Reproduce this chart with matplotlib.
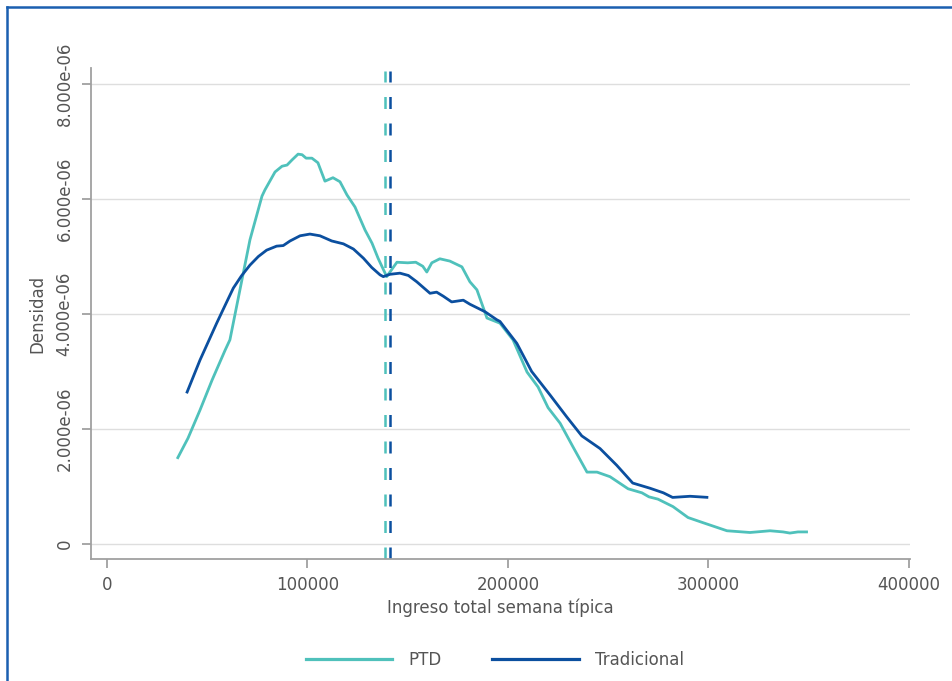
import matplotlib
matplotlib.use("Agg")
import matplotlib.pyplot as plt
from matplotlib.lines import Line2D

# ---- data ----
ptd_x = [35.0, 40.4, 46.4, 52.4, 58.9, 61.3, 66.3, 71.3, 77.3, 78.8, 83.8, 87.3, 89.8,
         92.3, 95.3, 97.3, 99.3, 102.2, 105.2, 108.7, 112.7, 116.2, 119.7, 123.7, 128.7,
         132.2, 135.2, 139.5, 144.6, 150.0, 154.0, 157.5, 159.5, 162.0, 166.0, 171.0,
         177.0, 181.0, 184.5, 189.5, 196.0, 202.5, 209.5, 215.0, 220.0, 226.0, 232.4,
         239.4, 244.4, 250.9, 259.9, 266.8, 270.3, 274.8, 282.3, 289.8, 297.3, 309.2,
         320.7, 330.7, 337.2, 340.6, 344.6, 349.6]
ptd_x = [v * 1000 for v in ptd_x]
ptd_y = [1.48, 1.84, 2.33, 2.85, 3.37, 3.55, 4.42, 5.29, 6.05, 6.16, 6.47, 6.57, 6.59,
         6.68, 6.78, 6.77, 6.71, 6.71, 6.63, 6.31, 6.37, 6.30, 6.07, 5.86, 5.46,
         5.23, 4.97, 4.65, 4.90, 4.89, 4.90, 4.83, 4.73, 4.89, 4.96, 4.92,
         4.82, 4.56, 4.42, 3.93, 3.84, 3.55, 2.99, 2.73, 2.37, 2.10, 1.69,
         1.25, 1.25, 1.17, 0.96, 0.89, 0.82, 0.78, 0.65, 0.46, 0.37, 0.23,
         0.20, 0.23, 0.21, 0.19, 0.21, 0.21]
ptd_y = [v * 1e-6 for v in ptd_y]

trad_x = [39.7, 46.4, 54.7, 58.9, 63.0, 67.0, 71.3, 75.5, 79.6, 84.6, 87.9, 91.3, 96.3,
          101.2, 106.2, 112.1, 117.9, 122.9, 127.9, 132.0, 136.2, 137.8, 141.1, 146.1,
          150.3, 154.5, 161.1, 164.4, 167.7, 171.9, 177.7, 181.0, 188.5, 194.4, 196.0,
          204.4, 211.8, 221.0, 229.3, 236.8, 245.9, 254.2, 262.2, 270.8, 277.5, 282.1,
          290.8, 299.9]
trad_x = [v * 1000 for v in trad_x]
trad_y = [2.62, 3.20, 3.84, 4.15, 4.45, 4.66, 4.85, 5.00, 5.11, 5.18, 5.19, 5.27, 5.36,
          5.39, 5.36, 5.27, 5.22, 5.13, 4.97, 4.81, 4.68, 4.65, 4.69, 4.71,
          4.67, 4.56, 4.36, 4.38, 4.31, 4.21, 4.24, 4.17, 4.04, 3.90, 3.87,
          3.49, 3.00, 2.59, 2.21, 1.88, 1.66, 1.37, 1.06, 0.97, 0.89, 0.81,
          0.83, 0.81]
trad_y = [v * 1e-6 for v in trad_y]

mean_ptd = 138700
mean_trad = 140900

xticks = [0, 100000, 200000, 300000, 400000]
xtick_labels = ["0", "100000", "200000", "300000", "400000"]
yticks = [0, 2e-6, 4e-6, 6e-6, 8e-6]
ytick_labels = ["0", "2.000e-06", "4.000e-06", "6.000e-06", "8.000e-06"]

series_names = ["PTD", "Tradicional"]
TEAL = "#4fc1bb"
BLUE = "#0b4f9f"
TXT = "#555555"
SPINE = "#a0a0a0"
GRID = "#dedede"

plt.rcParams['font.family'] = ['DejaVu Sans']

fig = plt.figure(figsize=(9.53, 6.81), dpi=100)
ax = fig.add_axes([91/953, 1 - 559/681, (910 - 91)/953, (559 - 68)/681])

ax.set_xlim(-7980, 400500)
ax.set_ylim(-0.261e-6, 8.278e-6)

ax.set_yticks(yticks)
ax.set_yticklabels(ytick_labels, rotation=90, va="center")
ax.set_xticks(xticks)
ax.set_xticklabels(xtick_labels)
ax.grid(axis="y", color=GRID, linewidth=1.0)
ax.set_axisbelow(True)

for s in ["top", "right"]:
    ax.spines[s].set_visible(False)
for s in ["left", "bottom"]:
    ax.spines[s].set_color(SPINE)
    ax.spines[s].set_linewidth(1.3)
ax.tick_params(axis="both", colors=SPINE, length=6.5, width=1.3, labelcolor=TXT, labelsize=12)
ax.tick_params(axis="y", pad=6)
ax.tick_params(axis="x", pad=6)

lw = 2.0
ax.plot(ptd_x, ptd_y, color=TEAL, lw=lw, solid_joinstyle="round", solid_capstyle="butt",
        label=series_names[0])
ax.plot(trad_x, trad_y, color=BLUE, lw=lw, solid_joinstyle="round", solid_capstyle="butt",
        label=series_names[1])

for xm, c in [(mean_ptd, TEAL), (mean_trad, BLUE)]:
    ln = ax.axvline(xm, ymin=0, ymax=0.993, color=c, lw=1.8)
    ln.set_dashes((4.8, 5.8))

ax.set_xlabel("Ingreso total semana típica", color=TXT, fontsize=12, labelpad=3)
ax.set_ylabel("Densidad", color=TXT, fontsize=12, labelpad=7)

handles = [Line2D([0], [0], color=TEAL, lw=2.3), Line2D([0], [0], color=BLUE, lw=2.3)]
leg = fig.legend(handles, series_names, loc="center", bbox_to_anchor=(495/953, 1 - 660/681),
                 ncol=2, frameon=False, fontsize=12, handlelength=5.2, handletextpad=1.0,
                 columnspacing=3.0)
for t in leg.get_texts():
    t.set_color(TXT)

# figure frame (top and left edges)
fig.add_artist(Line2D([7/953, 1], [1 - 6.5/681, 1 - 6.5/681], transform=fig.transFigure,
                      color="#1a5fb0", lw=1.8))
fig.add_artist(Line2D([7.5/953, 7.5/953], [0, 1 - 6.5/681], transform=fig.transFigure,
                      color="#1a5fb0", lw=1.8))

fig.savefig("out.png", dpi=100)
